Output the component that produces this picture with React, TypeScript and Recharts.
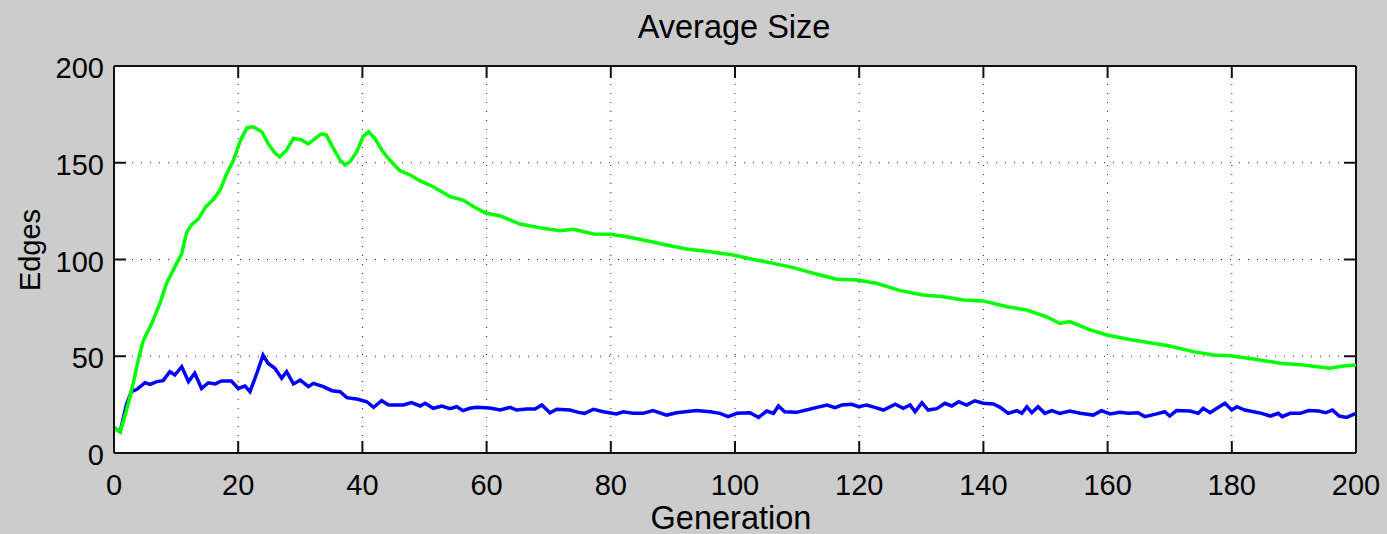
import React from "react";
import { LineChart, Line, XAxis, YAxis, CartesianGrid, ReferenceLine } from "recharts";

// Average-size traces over 200 generations
const greenGeneration = [
  0, 1, 2, 3.1, 3.9, 4.7, 6.1, 7.4, 8.5, 10.1, 10.9, 11.7, 12.5, 13.6, 14.7, 16, 17.1, 18.1, 19.2,
  20.3, 21.4, 22.4, 23.8, 24.8, 25.9, 26.7, 27.8, 28.9, 30.2, 31.3, 32.4, 33.4, 34.2, 35.3, 36.4,
  37.2, 38, 39.1, 40.1, 41, 42, 43.1, 44.4, 46, 47.7, 49.3, 51.4, 54.1, 56.2, 58.4, 60, 62.2, 65.4,
  69.1, 71.8, 74, 77.2, 79.9, 82.6, 85.8, 89, 92.2, 96, 99.7, 103, 105.6, 109.4, 112.6, 116.4,
  119.6, 122.8, 126.6, 130.3, 133.5, 136.8, 140, 143.8, 147, 150.2, 152.3, 153.9, 157.2, 159.9,
  163.1, 166.8, 170, 173.8, 177, 179.7, 183.5, 187.8, 191.5, 195.8, 198, 200,
];
const greenEdges = [
  13, 11, 22, 36, 48, 58, 67, 77.5, 88, 98, 103, 114, 118, 121, 127, 131, 136, 144, 151,
  161, 168, 168.6, 166, 160, 155, 153, 156.6, 162.6, 161.8, 159.7, 162.6, 164.9, 164.3, 157.5, 151.4,
  148.8, 150.5, 155.7, 163.5, 166, 162.6, 156.6, 151.4, 146, 143.7, 140.6, 137.6, 132.5, 130.7, 126.4, 123.9, 122.5, 118.3,
  116.1, 114.9, 115.6, 113.2, 113, 111.8, 109.7, 107.5, 105.4, 104, 102.3, 100, 98.4, 95.8, 92.9, 89.8,
  89.4, 87.7, 83.9, 81.7, 80.8, 79.1, 78.6, 75.6, 73.9, 70.4, 67, 67.9, 63.6, 61,
  58.9, 57, 55.3, 52.4, 50.6, 50.3, 48.6, 46.4, 45.5, 43.8, 45, 45.5,
];

const blueGeneration = [
  0, 1, 2, 2.8, 3.7, 5, 5.8, 6.9, 7.9, 9, 9.8, 10.9, 12, 13, 14.1, 15.2, 16.3, 17.3, 18.9, 20, 21.1,
  21.9, 23, 24, 24.8, 25.9, 27, 27.8, 28.9, 30, 31.3, 32.1, 33.7, 35.1, 36.4, 37.5, 39.3, 40.7, 41.8,
  43.1, 44.2, 46.6, 47.9, 49.3, 50.1, 51.4, 52.8, 54.1, 55.2, 56.2, 57.3, 58.4, 60.5, 62.2, 63.8,
  64.8, 66.5, 67.8, 68.9, 70.2, 71.3, 73.4, 74.8, 75.8, 77.2, 78.8, 80.9, 82, 83.6, 85.2, 86.8, 89,
  90.6, 93.8, 96, 97.6, 98.9, 100.3, 102.4, 103.8, 105.1, 106.2, 107, 108, 109.9, 111.5, 113.2,
  114.8, 116.1, 117.2, 118.8, 119.9, 121.2, 122.5, 123.9, 125.8, 127.1, 128.2, 129, 130.1, 131.1,
  132.5, 133.8, 134.9, 136, 137.3, 138.6, 140, 141.6, 142.7, 144, 145.4, 146.2, 147, 147.8, 148.8,
  149.9, 151, 152.3, 153.9, 155.6, 157.7, 159, 160.4, 162, 163.3, 164.9, 166, 167.9, 169.2, 170,
  171.1, 173.3, 174.6, 175.4, 176.5, 177.6, 178.9, 180, 180.8, 182.1, 183.5, 184.8, 186.2, 187.5,
  188.1, 189.4, 191, 192.4, 194, 195.1, 196.2, 197.3, 198.5, 200,
];
const blueEdges = [
  13, 11, 25, 31.7, 32.9, 36.3, 35.5, 36.9, 37.4, 42, 40.3, 44.6, 36.9, 41.2, 33.4, 36.3, 35.7, 37.2, 37.2, 33.4, 34.6,
  31.7, 41.2, 50.6, 46.4, 43.8, 38.6, 42, 35.7, 37.7, 34.3, 36, 34.3, 32.2, 31.7, 28.6, 27.8, 26.5, 23.6,
  27, 24.8, 24.8, 26, 24.3, 25.7, 23.1, 24.3, 22.9, 23.9, 21.9, 23.1, 23.6, 23.3, 22.2, 23.6,
  22.2, 22.7, 22.7, 24.8, 20.8, 22.6, 22.2, 21, 20.5, 22.6, 21.3, 20.2, 21.3, 20.5, 20.5, 21.9, 19.6,
  20.8, 21.9, 21.3, 20.5, 18.8, 20.5, 20.8, 18.4, 21.7, 20.5, 24.3, 21.3, 21, 22.2, 23.6,
  24.8, 23.4, 24.8, 25.2, 23.9, 24.8, 23.6, 22.2, 25.2, 23.1, 24.8, 21.3, 26, 22.2,
  22.9, 25.7, 24.3, 26.5, 24.8, 27, 25.7, 25.3, 23.6, 20.5, 21.9, 20.5, 23.9, 20.8, 23.9,
  20.5, 21.9, 20.5, 21.7, 20.5, 19.6, 21.9, 20.2, 21, 20.5, 20.8, 18.8, 20.2, 21.3, 19.1,
  21.9, 21.7, 20.5, 23.1, 20.8, 23.1, 25.7, 22.2, 23.9, 22.2, 21.3, 20.5, 19.1, 20.5,
  18.8, 20.5, 20.5, 21.9, 21.7, 20.8, 22.2, 19.1, 18.4, 20.5,
];

const xTicks = [0, 20, 40, 60, 80, 100, 120, 140, 160, 180, 200];
const yTicks = [0, 50, 100, 150, 200];

const greenData = greenGeneration.map((g, i) => ({ generation: g, edges: greenEdges[i] }));
const blueData = blueGeneration.map((g, i) => ({ generation: g, edges: blueEdges[i] }));

const W = 1387;
const H = 534;
// the axes themselves take 1px, so the plot box spans x 114..1356, y 66..453
const MARGIN = { top: 66, right: 31, bottom: 80, left: 113 };
const PLOT_LEFT = MARGIN.left + 1;
const PLOT_TOP = MARGIN.top;
const PLOT_RIGHT = W - MARGIN.right;
const PLOT_BOTTOM = H - MARGIN.bottom - 1;
const TICK_LEN = 12;
const FONT = "'Liberation Sans', Arial, Helvetica, sans-serif";
const INK = "#111";

// inward tick marks on both the bottom and top edges, label below
const XTick = (props: any) => {
  const { x, y, payload } = props;
  return (
    <g>
      <rect x={x - 1} y={y - TICK_LEN} width={2} height={TICK_LEN} fill={INK} />
      <rect x={x - 1} y={PLOT_TOP} width={2} height={TICK_LEN} fill={INK} />
      <text x={x} y={y + 42} textAnchor="middle" fontFamily={FONT} fontSize={29} fill="#000">
        {payload.value}
      </text>
    </g>
  );
};

// inward tick marks on both the left and right edges, label to the left
const YTick = (props: any) => {
  const { x, y, payload } = props;
  return (
    <g>
      <rect x={x} y={y - 1} width={TICK_LEN} height={2} fill={INK} />
      <rect x={PLOT_RIGHT - TICK_LEN} y={y - 1} width={TICK_LEN} height={2} fill={INK} />
      <text x={x - 10} y={y + 12} textAnchor="end" fontFamily={FONT} fontSize={29} fill="#000">
        {payload.value}
      </text>
    </g>
  );
};

export default function App() {
  return (
    <div style={{ position: "absolute", left: 0, top: 0, width: W, height: H, background: "#cccccc", overflow: "hidden" }}>
      {/* white axes background */}
      <div
        style={{
          position: "absolute",
          left: PLOT_LEFT,
          top: PLOT_TOP,
          width: PLOT_RIGHT - PLOT_LEFT,
          height: PLOT_BOTTOM - PLOT_TOP,
          background: "#ffffff",
        }}
      />
      <div style={{ position: "absolute", left: 0, top: 0 }}>
        <LineChart width={W} height={H} margin={MARGIN}>
          <CartesianGrid stroke="#222" strokeDasharray="1 8" fill="none" />
          <XAxis
            type="number"
            dataKey="generation"
            domain={[0, 200]}
            ticks={xTicks}
            interval={0}
            allowDataOverflow
            height={1}
            tickSize={0}
            tickMargin={0}
            tick={XTick}
            tickLine={false}
            axisLine={{ stroke: INK, strokeWidth: 2 }}
          />
          <YAxis
            type="number"
            domain={[0, 200]}
            ticks={yTicks}
            interval={0}
            allowDataOverflow
            width={1}
            tickSize={0}
            tickMargin={0}
            tick={YTick}
            tickLine={false}
            axisLine={{ stroke: INK, strokeWidth: 2 }}
          />
          <ReferenceLine y={200} stroke={INK} strokeWidth={2} />
          <ReferenceLine x={200} stroke={INK} strokeWidth={2} />
          <Line data={blueData} dataKey="edges" stroke="#0000ff" strokeWidth={3.5} dot={false} isAnimationActive={false} />
          <Line data={greenData} dataKey="edges" stroke="#00ff00" strokeWidth={3.5} dot={false} isAnimationActive={false} />
        </LineChart>
      </div>
      <svg width={W} height={H} style={{ position: "absolute", left: 0, top: 0, pointerEvents: "none" }}>
        <text x={734} y={38} textAnchor="middle" fontFamily={FONT} fontSize={32.5} fill="#000">
          Average Size
        </text>
        <text x={731} y={529} textAnchor="middle" fontFamily={FONT} fontSize={32.5} fill="#000">
          Generation
        </text>
        <text x={40} y={250} textAnchor="middle" fontFamily={FONT} fontSize={29} fill="#000" transform="rotate(-90 40 250)">
          Edges
        </text>
      </svg>
    </div>
  );
}
